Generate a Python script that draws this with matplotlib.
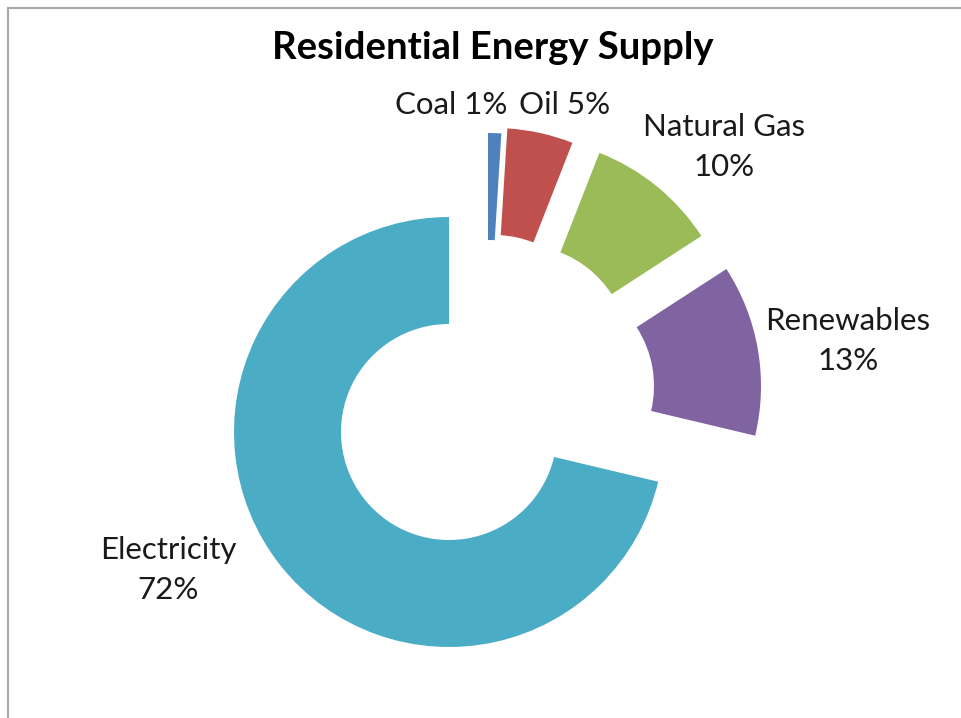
import matplotlib.pyplot as plt
from matplotlib.lines import Line2D

# energy sources, clockwise from 12 o'clock
sources = ["Coal", "Oil", "Natural Gas", "Renewables", "Electricity"]
shares = [1, 5, 10, 13, 72]
colors = ["#4F81BD", "#C0504D", "#9BBB59", "#8064A2", "#4BACC6"]

plt.rcParams["font.family"] = ["Lato", "DejaVu Sans"]

W, H = 961, 718
fig = plt.figure(figsize=(W / 100, H / 100), dpi=100)
ax = fig.add_axes([0, 0, 1, 1])

# axes work in pixel units, y measured up from the bottom
cx, cy = 449, H - 432
radius = 215

wedges, _ = ax.pie(shares, colors=colors, startangle=90, counterclock=False,
                   center=(cx, cy), radius=radius,
                   wedgeprops=dict(width=107, linewidth=0))

# pull the small slices out of the ring
offsets = [(39, 84), (45, 89), (72, 79), (97, 46), (0, 0)]
for w, (dx, dy) in zip(wedges, offsets):
    w.set_center((cx + dx, cy + dy))

ax.set_xlim(0, W)
ax.set_ylim(0, H)
ax.set_aspect("equal")
ax.axis("off")

ax.text(493, H - 48, "Residential Energy Supply", ha="center", va="center",
        fontsize=27.5, fontweight="bold")

label_pos = [(451, 105), (565, 105), (724, 147), (848, 341), (168, 570)]
for name, val, (x, y) in zip(sources, shares, label_pos):
    if name in ("Coal", "Oil"):
        txt = f"{name} {val}%"
    else:
        txt = f"{name}\n{val}%"
    ax.text(x, H - y, txt, ha="center", va="center", fontsize=22.5,
            linespacing=1.55, color="#1a1a1a")

# chart area border
fig.add_artist(Line2D([8 / W, 8 / W], [0, 1 - 8 / H], transform=fig.transFigure,
                      color="#a8a8a8", lw=1.5))
fig.add_artist(Line2D([8 / W, 1], [1 - 8 / H, 1 - 8 / H], transform=fig.transFigure,
                      color="#a8a8a8", lw=1.5))

fig.savefig("out.png", dpi=100, facecolor="white")
